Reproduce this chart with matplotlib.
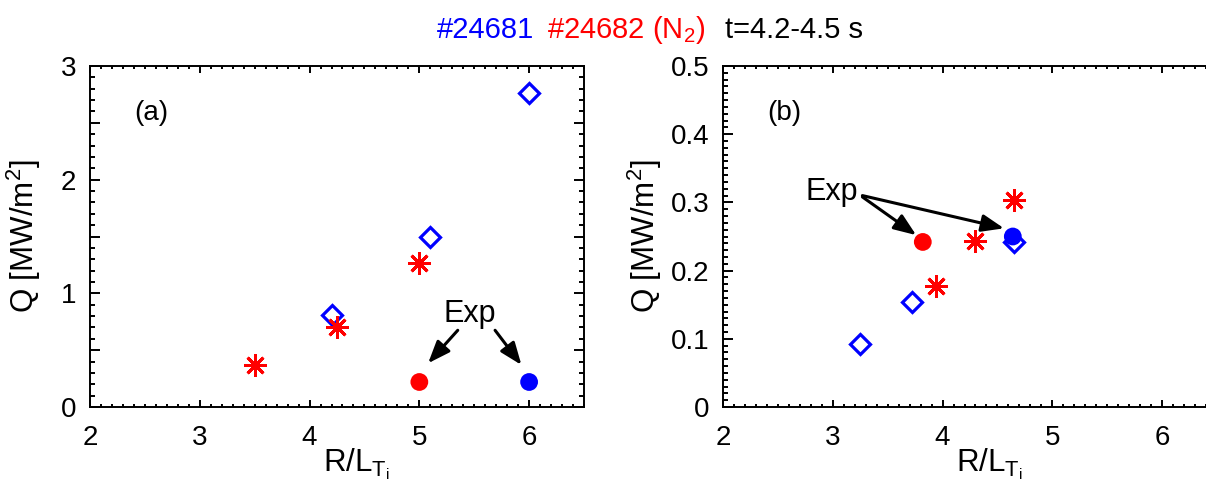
import matplotlib
matplotlib.use("Agg")
import matplotlib.pyplot as plt
from matplotlib.ticker import MultipleLocator, FuncFormatter

plt.rcParams['font.family'] = ['Liberation Sans', 'DejaVu Sans']
plt.rcParams['mathtext.fontset'] = 'custom'
plt.rcParams['mathtext.rm'] = 'Liberation Sans'
plt.rcParams['mathtext.it'] = 'Liberation Sans:italic'

# panel (a)
a_diam_x = [4.2, 5.1, 6.0]
a_diam_y = [0.81, 1.50, 2.76]
a_star_x = [3.5, 4.25, 5.0]
a_star_y = [0.37, 0.70, 1.27]
a_exp_x = [5.0, 6.0]
a_exp_y = [0.22, 0.22]
a_exp_col = ['red', 'blue']

# panel (b)
b_diam_x = [3.25, 3.72, 4.65]
b_diam_y = [0.093, 0.154, 0.242]
b_star_x = [3.94, 4.30, 4.65]
b_star_y = [0.178, 0.244, 0.304]
b_exp_x = [3.82, 4.64]
b_exp_y = [0.242, 0.250]
b_exp_col = ['red', 'blue']

fig = plt.figure(figsize=(12.06, 4.8), dpi=100)
ax1 = fig.add_axes([90 / 1206, 73 / 480, 494 / 1206, 341 / 480])
ax2 = fig.add_axes([723 / 1206, 73 / 480, 494 / 1206, 341 / 480])

tick_fs = 20
lab_fs = 22.5


def style(ax, ymajor, yminor, ylim, label_every):
    ax.set_xlim(2, 6.5)
    ax.set_ylim(*ylim)
    ax.xaxis.set_major_locator(MultipleLocator(1))
    ax.xaxis.set_minor_locator(MultipleLocator(0.1))
    ax.yaxis.set_major_locator(MultipleLocator(ymajor))
    ax.yaxis.set_minor_locator(MultipleLocator(yminor))
    ax.xaxis.set_major_formatter(FuncFormatter(lambda v, p: '%d' % round(v)))
    def yfmt(v, p):
        k = round(v / label_every)
        if abs(v - k * label_every) > 1e-6:
            return ''
        return ('%d' % round(v)) if label_every >= 1 else ('%g' % round(v, 2))
    ax.yaxis.set_major_formatter(FuncFormatter(yfmt))
    ax.tick_params(which='both', direction='in', top=True, right=True, width=1.4,
                   labelsize=tick_fs)
    ax.tick_params(axis='y', which='major', length=7.2, pad=10)
    ax.tick_params(axis='y', which='minor', length=3.6)
    ax.tick_params(axis='x', which='major', length=5, pad=13)
    ax.tick_params(axis='x', which='minor', length=2.5)
    for s in ax.spines.values():
        s.set_linewidth(1.4)
    ax.set_xlabel(r'R/L$_{\mathrm{T}_{\mathrm{i}}}$', fontsize=lab_fs)
    ax.set_ylabel(r'Q [MW/m$^2$]', fontsize=lab_fs)
    ax.xaxis.set_label_coords(0.54, -0.115)


def draw(ax, dx, dy, sx, sy, ex, ey, ecol):
    ax.plot(dx, dy, 'D', ms=10, mfc='none', mec='blue', mew=2.3, ls='none', zorder=3)
    ax.plot(sx, sy, marker=(8, 2, 0), ms=16, mec='red', mew=2.1, ls='none', zorder=3)
    ax.scatter(ex, ey, s=12.8 ** 2, c=ecol, edgecolors='none', zorder=4)


style(ax1, 0.5, 0.1, (0, 3), 1)
style(ax2, 0.1, 0.01, (0, 0.5), 0.1)
ax1.yaxis.set_label_coords(-0.095, 0.5)
ax2.yaxis.set_label_coords(-0.12, 0.5)

draw(ax1, a_diam_x, a_diam_y, a_star_x, a_star_y, a_exp_x, a_exp_y, a_exp_col)
draw(ax2, b_diam_x, b_diam_y, b_star_x, b_star_y, b_exp_x, b_exp_y, b_exp_col)

ax1.text(0.1235, 0.863, '(a)', transform=ax1.transAxes, fontsize=tick_fs,
         ha='center', va='center')
ax2.text(0.124, 0.861, '(b)', transform=ax2.transAxes, fontsize=tick_fs,
         ha='center', va='center')

arrow = dict(arrowstyle='-|>,head_length=0.9,head_width=0.35', lw=2.2, color='k',
             shrinkA=0, shrinkB=0, mutation_scale=15)
ax1.text(5.46, 0.745, 'Exp', fontsize=22, ha='center', va='baseline')
ax1.annotate('', xy=(5.08, 0.385), xytext=(5.35, 0.675), arrowprops=arrow)
ax1.annotate('', xy=(5.93, 0.37), xytext=(5.69, 0.675), arrowprops=arrow)

ax2.text(2.99, 0.303, 'Exp', fontsize=22, ha='center', va='baseline')
ax2.annotate('', xy=(3.76, 0.252), xytext=(3.27, 0.308), arrowprops=arrow)
ax2.annotate('', xy=(4.56, 0.262), xytext=(3.27, 0.310), arrowprops=arrow)

ty = 1 - 38 / 480
fig.text(437 / 1206, ty, '#24681', color='blue', fontsize=21, ha='left', va='baseline')
fig.text(547 / 1206, ty, r'#24682 (N$_2$)', color='red', fontsize=21, ha='left', va='baseline')
fig.text(725 / 1206, ty, 't=4.2-4.5 s', color='black', fontsize=21, ha='left', va='baseline')

fig.savefig('out.png', dpi=100)
